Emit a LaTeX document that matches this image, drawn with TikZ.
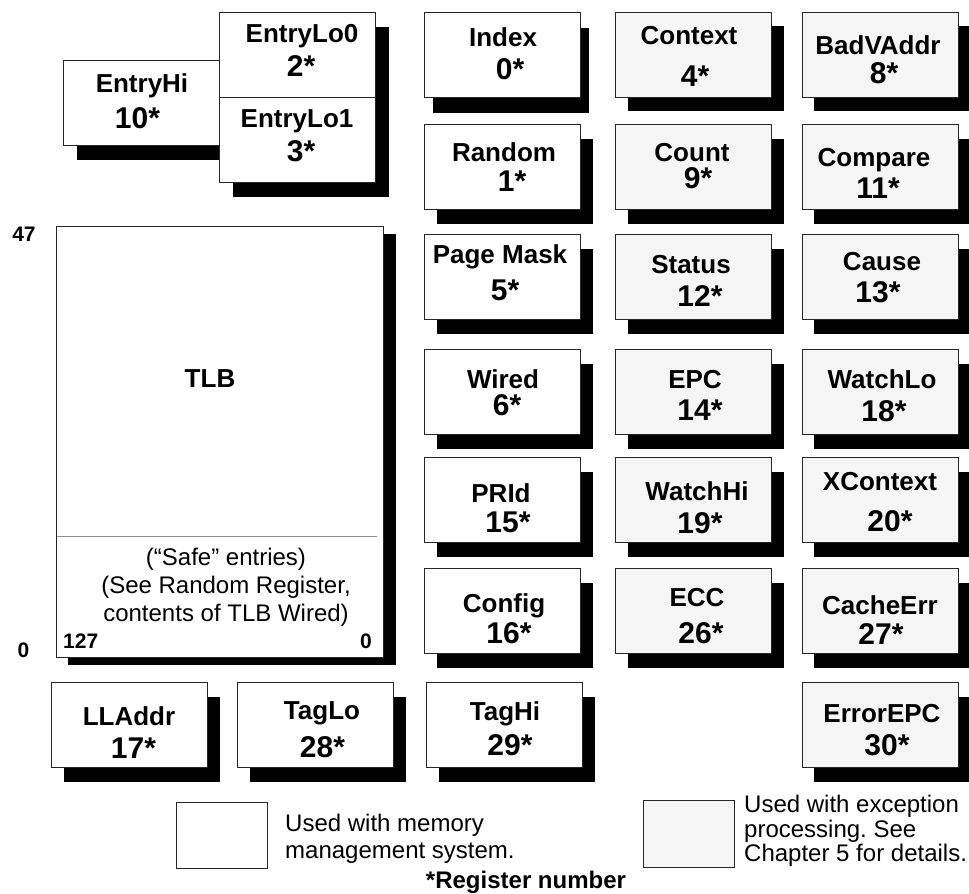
\documentclass[tikz,border=0pt]{standalone}
\usepackage{fontspec}
\setmainfont{Liberation Sans}
\definecolor{exgray}{RGB}{245,245,245}
\frenchspacing
\tikzset{
  regw/.style={rectangle, draw=black!85, line width=1.2pt, fill=white, inner sep=0pt,
    minimum width=156pt, minimum height=85pt, anchor=north west},
  regg/.style={regw, fill=exgray},
  shad/.style={fill=black},
  lab/.style={anchor=base, inner sep=0pt, font=\fontsize{26}{26}\selectfont\bfseries},
  num/.style={anchor=base, inner sep=0pt, font=\fontsize{30}{30}\selectfont\bfseries},
  small/.style={anchor=base, inner sep=0pt, font=\fontsize{21}{21}\selectfont\bfseries},
  note/.style={anchor=base, inner sep=0pt, font=\fontsize{24}{24}\selectfont},
  notew/.style={anchor=base west, inner sep=0pt, font=\fontsize{24}{24}\selectfont},
}
% #1 name, #2 style, #3 x, #4 y, #5 shadow dx, #6 shadow dy
\newcommand\regbox[6]{%
  \fill[shad] (#3+#5,#4+#6) rectangle ++(156,85);
  \node[#2] (#1) at (#3,#4) {};}
% #1 name, #2 label, #3 lx, #4 ly, #5 number, #6 nx, #7 ny
\newcommand\reglab[7]{%
  \node[lab] (#1-l) at (#3,#4) {#2};
  \node[num] (#1-n) at (#6,#7) {#5};}
\begin{document}
\begin{tikzpicture}[x=1pt,y=-1pt]
\useasboundingbox (0,0) rectangle (969,894);

% ---- top-left group
\regbox{entryhi}{regw}{63}{60}{14}{15}
\reglab{entryhi}{EntryHi}{142}{92}{10*}{137.5}{128}
\regbox{entrylo0}{regw}{219}{12}{14}{15}
\reglab{entrylo0}{EntryLo0}{302}{42}{2*}{301}{76}
\regbox{entrylo1}{regw}{219}{97}{14}{15}
\reglab{entrylo1}{EntryLo1}{297}{127}{3*}{301}{161}

% ---- column 1 (memory management)
\regbox{index}{regw}{424}{12}{9}{16}
\reglab{index}{Index}{503}{46}{0*}{510}{79}
\regbox{random}{regw}{424}{124}{13}{15}
\reglab{random}{Random}{504}{161}{1*}{512}{191}
\regbox{pagemask}{regw}{424}{234}{13}{15}
\reglab{pagemask}{Page Mask}{500}{263}{5*}{505}{300}
\regbox{wired}{regw}{424}{349}{13}{15}
\reglab{wired}{Wired}{503}{388}{6*}{507}{415}
\regbox{prid}{regw}{424}{457}{13}{15}
\reglab{prid}{PRId}{501}{502}{15*}{508}{532}
\regbox{config}{regw}{424}{568}{13}{15}
\reglab{config}{Config}{504}{612}{16*}{509}{643}
\regbox{taghi}{regw}{426}{682}{13}{15}
\reglab{taghi}{TagHi}{505}{720}{29*}{510}{755}

% ---- column 2 (exception)
\regbox{context}{regg}{615}{12}{13}{14}
\reglab{context}{Context}{689}{44}{4*}{695}{86}
\regbox{count}{regg}{615}{124}{13}{15}
\reglab{count}{Count}{692}{161}{9*}{698}{188}
\regbox{status}{regg}{615}{234}{13}{15}
\reglab{status}{Status}{691}{273}{12*}{700}{306}
\regbox{epc}{regg}{615}{349}{13}{15}
\reglab{epc}{EPC}{695}{388}{14*}{700}{420}
\regbox{watchhi}{regg}{615}{457}{13}{15}
\reglab{watchhi}{WatchHi}{697}{500}{19*}{700}{533}
\regbox{ecc}{regg}{615}{568}{13}{15}
\reglab{ecc}{ECC}{697}{606}{26*}{701}{643}

% ---- column 3 (exception)
\regbox{badvaddr}{regg}{802}{12}{12}{14}
\reglab{badvaddr}{BadVAddr}{878}{54}{8*}{884}{83}
\regbox{compare}{regg}{802}{124}{12}{15}
\reglab{compare}{Compare}{874}{166}{11*}{878}{198}
\regbox{cause}{regg}{802}{234}{12}{15}
\reglab{cause}{Cause}{882}{270}{13*}{878}{302}
\regbox{watchlo}{regg}{802}{349}{12}{15}
\reglab{watchlo}{WatchLo}{882}{388}{18*}{884}{421}
\regbox{xcontext}{regg}{802}{457}{12}{15}
\reglab{xcontext}{XContext}{880}{490}{20*}{890}{531}
\regbox{cacheerr}{regg}{802}{568}{12}{15}
\reglab{cacheerr}{CacheErr}{880}{614}{27*}{881}{644}
\regbox{errorepc}{regg}{802}{682}{12}{15}
\reglab{errorepc}{ErrorEPC}{882}{722}{30*}{887}{755}

% ---- bottom-left row
\regbox{lladdr}{regw}{51}{682}{13}{15}
\reglab{lladdr}{LLAddr}{129}{725}{17*}{133.5}{758}
\regbox{taglo}{regw}{237}{682}{13}{15}
\reglab{taglo}{TagLo}{322}{719}{28*}{322.5}{757}

% ---- TLB
\fill[shad] (68,234) rectangle (396,665);
\node[regw, minimum width=327pt, minimum height=431pt] (tlb) at (56,226) {};
\draw[black!45, line width=1pt] (57,536) -- (377,536);
\node[lab] (tlbl) at (210,387) {TLB};
\node[note] (safe1) at (226,565) {(“Safe” entries)};
\node[note] (safe2) at (226,593) {(See Random Register,};
\node[note] (safe3) at (226,621) {contents of TLB Wired)};
\node[small] (b47) at (24,241) {47};
\node[small] (b0) at (23.5,657) {0};
\node[small, anchor=base west] (e127) at (63,648) {127};
\node[small] (e0) at (366,648) {0};

% ---- legend
\node[regw, line width=1.1pt, minimum width=91pt, minimum height=66pt] (legw) at (176,802) {};
\node[notew] (legw1) at (285,831) {Used with memory};
\node[notew] (legw2) at (285,858) {management system.};
\node[regg, line width=1.1pt, minimum width=91pt, minimum height=67pt] (legg) at (643,800) {};
\node[notew] (legg1) at (744,812) {Used with exception};
\node[notew] (legg2) at (744,837) {processing. See};
\node[notew] (legg3) at (744,861) {Chapter 5 for details.};
\node[anchor=base, inner sep=0pt, font=\fontsize{24}{24}\selectfont\bfseries] (regnum) at (526,888) {*Register number};
\end{tikzpicture}
\end{document}
